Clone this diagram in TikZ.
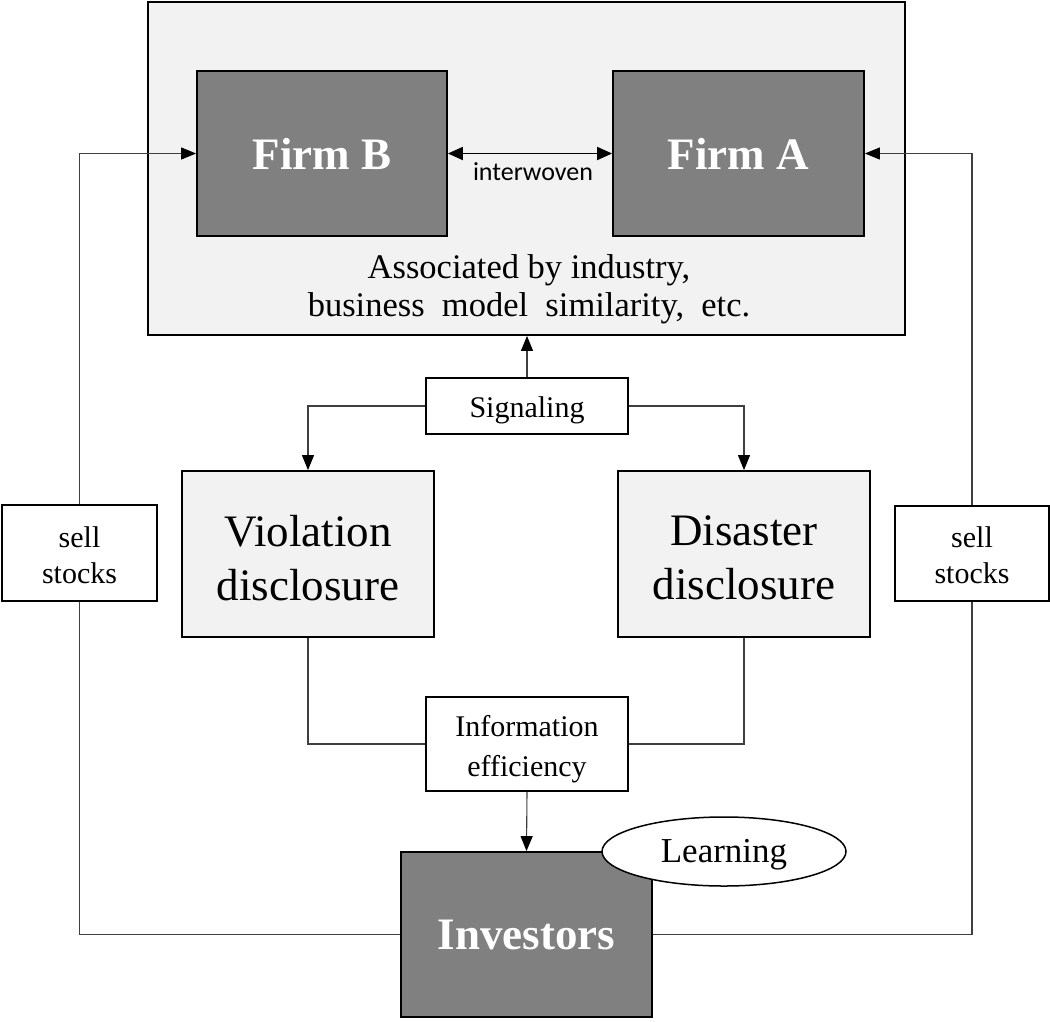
\documentclass[tikz,border=0pt]{standalone}
\usepackage{fontspec}
\setmainfont{Liberation Serif}
\newfontfamily\labelsans{Carlito}
\usetikzlibrary{arrows.meta,shapes.geometric}
\definecolor{panel}{HTML}{F2F2F2}
\definecolor{firmgray}{HTML}{808080}
\definecolor{wire}{HTML}{3F3F3F}
\tikzset{
  plainbox/.style={draw=black, line width=1.8pt, rectangle, inner sep=0pt, align=center},
  firmbox/.style={plainbox, fill=firmgray, text=white, font=\fontsize{45}{54}\selectfont\bfseries},
  discbox/.style={plainbox, fill=panel},
  disctext/.style={align=center, inner sep=0pt, font=\fontsize{45}{54}\selectfont, yshift=-4pt},
  tagbox/.style={plainbox, fill=white, line width=1.5pt},
  tagtext/.style={align=center, inner sep=0pt, font=\fontsize{30}{36}\selectfont},
  wireline/.style={draw=wire, line width=1.1pt},
  tip/.style={-{Triangle[length=15pt,width=12pt,color=black]}}
}
\begin{document}
\begin{tikzpicture}[x=1pt,y=-1pt]
\useasboundingbox (0,0) rectangle (1050,1021);

% outer panel holding both firms
\node[plainbox, fill=panel, minimum width=757pt, minimum height=333pt] (panel) at (526.5,168.5) {};
\node[firmbox, minimum width=250pt, minimum height=165pt] (firmB) at (322,153.5) {Firm B};
\node[firmbox, minimum width=251pt, minimum height=165pt] (firmA) at (738.5,153.5) {Firm A};
\draw[line width=1.8pt, {Triangle[length=15pt,width=13pt]}-{Triangle[length=15pt,width=13pt]}] (firmB.east) -- (firmA.west);
\node[font=\labelsans\fontsize{26}{30}\selectfont] (weave) at (533,172) {interwoven};
\node[font=\fontsize{34.5}{38}\selectfont, align=center] (assoc) at (529,289) {Associated\ by\ industry,\\business\ \ model\ \ similarity,\ \ etc.};

% signaling and disclosures
\node[tagbox, minimum width=202pt, minimum height=56pt,
      label={[tagtext, yshift=-4pt, name=signalText]center:Signaling}] (signal) at (527,406) {};
\node[discbox, minimum width=252pt, minimum height=166pt,
      label={[disctext, name=violText]center:Violation\\disclosure}] (viol) at (308,554) {};
\node[discbox, minimum width=252pt, minimum height=166pt,
      label={[disctext, name=disasText]center:Disaster\\disclosure}] (disas) at (744,554) {};
\node[tagbox, minimum width=202pt, minimum height=94pt,
      label={[tagtext, font=\fontsize{30}{40}\selectfont, yshift=-5pt, name=infoText]center:Information\\efficiency}] (info) at (527,744) {};

% investors
\node[firmbox, minimum width=251pt, minimum height=165pt] (inv) at (526.5,934.5) {Investors};
\node[draw=black, line width=1.5pt, fill=white, ellipse, minimum width=244pt, minimum height=69pt, inner sep=0pt,
      label={[tagtext, font=\fontsize{35}{42}\selectfont, yshift=-3pt, name=learnText]center:Learning}] (learn) at (724,851.5) {};

% sell-stock tags on both sides
\node[tagbox, minimum width=155pt, minimum height=96pt,
      label={[tagtext, yshift=-2pt, name=sellLText]center:sell\\stocks}] (sellL) at (79.5,553) {};
\node[tagbox, minimum width=154pt, minimum height=95pt,
      label={[tagtext, yshift=-2pt, name=sellRText]center:sell\\stocks}] (sellR) at (972,553.5) {};

% connectors
\draw[wireline, tip] (signal.north) -- (signal.north |- panel.south);
\draw[wireline, tip] (signal.west) -| (viol.north);
\draw[wireline, tip] (signal.east) -| (disas.north);
\draw[wireline] (viol.south) |- (info.west);
\draw[wireline] (disas.south) |- (info.east);
\draw[wireline, tip] (info.south) -- (inv.north);

\draw[wireline] (inv.west) -| (sellL.south);
\draw[wireline, tip] (sellL.north) |- (firmB.west);
\draw[wireline] (inv.east) -| (sellR.south);
\draw[wireline, tip] (sellR.north) |- (firmA.east);
\end{tikzpicture}
\end{document}
